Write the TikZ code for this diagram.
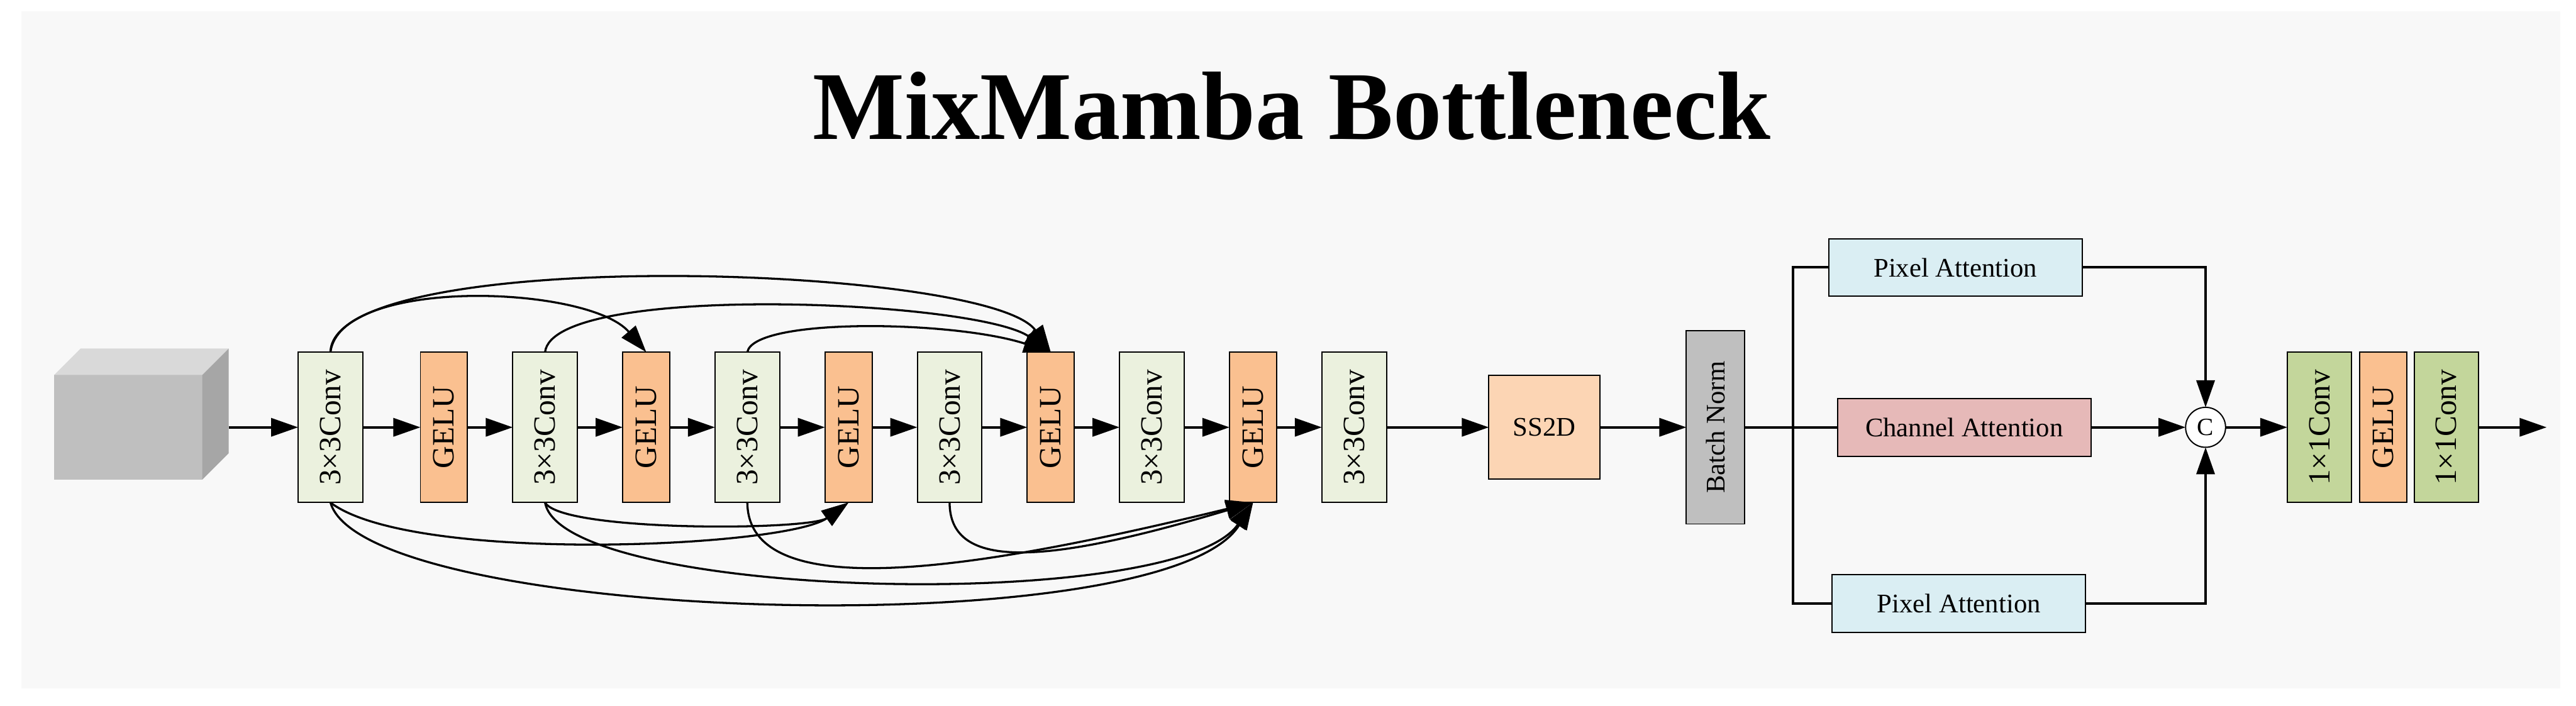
\documentclass[tikz,border=0pt]{standalone}
\usepackage{fontspec}
\usepackage{graphicx}
\setmainfont{Liberation Serif}
\usetikzlibrary{arrows.meta,positioning}

\definecolor{mmBack}{HTML}{F8F8F8}
\definecolor{mmConv}{HTML}{EBF1DE}
\definecolor{mmGelu}{HTML}{FAC090}
\definecolor{mmSSD}{HTML}{FCD5B4}
\definecolor{mmNorm}{HTML}{BFBFBF}
\definecolor{mmPixel}{HTML}{DAEEF3}
\definecolor{mmChannel}{HTML}{E6B9B8}
\definecolor{mmPoint}{HTML}{C3D69B}
\definecolor{mmCubeTop}{HTML}{D9D9D9}
\definecolor{mmCubeFront}{HTML}{BFBFBF}
\definecolor{mmCubeSide}{HTML}{A6A6A6}

\newcommand{\mmBlockHeight}{2.56cm}
\newcommand{\mmConvWidth}{1.10cm}
\newcommand{\mmGeluWidth}{0.80cm}
\newcommand{\mmStepDist}{1.72cm}
\newcommand{\mmFirstExtra}{0.21cm}
\newcommand{\mmUp}[1]{\rotatebox{90}{#1}}
\tikzset{
  mm base/.style={inner sep=0pt, outer sep=0pt},
  mm arrow/.style={line width=1.2pt, -{Triangle[length=4.6mm,width=3.1mm]}},
  mm line/.style={line width=1.2pt},
  mm skip/.style={line width=1.0pt, -{Triangle[length=4.6mm,width=3.1mm]}},
  mm block/.style={draw, rectangle, line width=0.6pt,
    minimum height=\mmBlockHeight, font=\fontsize{15}{16}\selectfont},
  mm conv/.style={mm block, fill=mmConv, minimum width=\mmConvWidth},
  mm gelu/.style={mm block, fill=mmGelu, minimum width=\mmGeluWidth},
  mm point/.style={mm block, fill=mmPoint, minimum width=1.09cm},
  mm ss2d/.style={draw, rectangle, line width=0.6pt, fill=mmSSD,
    minimum width=1.89cm, minimum height=1.77cm, font=\fontsize{13}{14}\selectfont},
  mm norm/.style={draw, rectangle, line width=0.6pt, fill=mmNorm,
    minimum width=0.99cm, minimum height=3.29cm, font=\fontsize{13}{14}\selectfont},
  mm attn/.style={draw, rectangle, line width=0.6pt,
    minimum width=4.31cm, minimum height=0.98cm, font=\fontsize{13}{14}\selectfont},
  mm cat/.style={draw, circle, line width=0.6pt, fill=white,
    minimum size=0.68cm, font=\fontsize{12}{13}\selectfont},
}

\begin{document}
\begin{tikzpicture}[
    mm base,
    node distance=\mmStepDist,
    conv/.style={mm conv},
    gelu/.style={mm gelu},
    arrow/.style={mm arrow},
    skiparrow/.style={mm skip}
]
\useasboundingbox (0,7.27) rectangle (43.81,-4.74);
\fill [mmBack] (0.36,7.08) rectangle (43.54,-4.44);

\node (title) [anchor=base, font=\bfseries\fontsize{47}{50}\selectfont] at (21.97,4.90) {MixMamba Bottleneck};

% input feature cube
\node (input) [fill=mmCubeFront, minimum width=2.52cm, minimum height=1.78cm] at (2.18,0) {};
\fill [mmCubeTop] (input.north west) -- ++(0.45,0.45) -- ([shift={(0.45,0.45)}]input.north east) -- (input.north east) -- cycle;
\fill [mmCubeSide] (input.north east) -- ++(0.45,0.45) -- ([shift={(0.45,0.45)}]input.south east) -- (input.south east) -- cycle;
\coordinate (inputR) at ([xshift=0.45cm]input.east);

\node (c1) [conv] at (5.62,0) {\mmUp{3×3Conv}};
\node (g1) [gelu, right of=c1, xshift=\mmFirstExtra] {\mmUp{GELU}};
\node (c2) [conv, right of=g1] {\mmUp{3×3Conv}};
\node (g2) [gelu, right of=c2] {\mmUp{GELU}};
\node (c3) [conv, right of=g2] {\mmUp{3×3Conv}};
\node (g3) [gelu, right of=c3] {\mmUp{GELU}};
\node (c4) [conv, right of=g3] {\mmUp{3×3Conv}};
\node (g4) [gelu, right of=c4] {\mmUp{GELU}};
\node (c5) [conv, right of=g4] {\mmUp{3×3Conv}};
\node (g5) [gelu, right of=c5] {\mmUp{GELU}};
\node (c6) [conv, right of=g5] {\mmUp{3×3Conv}};
\node (ss) [mm ss2d, right=1.74cm of c6] {SS2D};
\node (bn) [mm norm, right=1.47cm of ss] {\mmUp{Batch Norm}};
\coordinate (split) at ([xshift=0.82cm]bn.east);
\node (ca)  [mm attn, fill=mmChannel, right=0.76cm of split] {Channel Attention};
\node (pa1) [mm attn, fill=mmPixel, above=1.74cm of ca, xshift=-0.15cm] {Pixel Attention};
\node (pa2) [mm attn, fill=mmPixel, below=2.02cm of ca, xshift=-0.09cm] {Pixel Attention};
\node (cat) [mm cat, right=1.61cm of ca] {C};
\node (pc1) [mm point, right=1.05cm of cat] {\mmUp{1×1Conv}};
\node (pg)  [mm gelu, right=0.14cm of pc1] {\mmUp{GELU}};
\node (pc2) [mm point, right=0.13cm of pg] {\mmUp{1×1Conv}};
\coordinate (out) at ([xshift=1.16cm]pc2.east);

\draw [arrow] (inputR) -- (c1);
\draw [arrow] (c1) -- (g1);
\draw [arrow] (g1) -- (c2);
\draw [arrow] (c2) -- (g2);
\draw [arrow] (g2) -- (c3);
\draw [arrow] (c3) -- (g3);
\draw [arrow] (g3) -- (c4);
\draw [arrow] (c4) -- (g4);
\draw [arrow] (g4) -- (c5);
\draw [arrow] (c5) -- (g5);
\draw [arrow] (g5) -- (c6);
\draw [arrow] (c6) -- (ss);
\draw [arrow] (ss) -- (bn);
\draw [mm line] (bn) -- (ca);
\draw [mm line] (split) |- (pa1);
\draw [mm line] (split) |- (pa2);
\draw [arrow] (pa1) -| (cat);
\draw [arrow] (ca) -- (cat);
\draw [arrow] (pa2) -| (cat);
\draw [arrow] (cat) -- (pc1);
\draw [arrow] (pc2) -- (out);

% dense skips, above
\draw [skiparrow] (c1.north) .. controls +(0.17,1.29) and +(-0.98,1.14) .. (g2.north);
\draw [skiparrow] (c1.north) .. controls +(0.05,1.84) and +(-1.05,1.49) .. (g4.north);
\draw [skiparrow] (c2.north) .. controls +(0.135,1.19) and +(-1.25,0.89) .. (g4.north);
\draw [skiparrow] (c3.north) .. controls +(0.115,0.59) and +(-1.65,0.54) .. (g4.north);
% dense skips, below
\draw [skiparrow] (c1.south) .. controls +(1.38,-1.05) and +(-1.065,-0.77) .. (g3.south);
\draw [skiparrow] (c2.south) .. controls +(0.285,-0.5) and +(-0.665,-0.48) .. (g3.south);
\draw [skiparrow] (c1.south) .. controls +(0.58,-2.05) and +(-1.51,-2.45) .. (g5.south);
\draw [skiparrow] (c2.south) .. controls +(0.285,-1.65) and +(-1.31,-1.90) .. (g5.south);
\draw [skiparrow] (c3.south) .. controls +(0.015,-1.85) and +(-4.31,-1.05) .. (g5.south);
\draw [skiparrow] (c4.south) .. controls +(0,-1.17) and +(-3.51,-1.05) .. (g5.south);
\end{tikzpicture}
\end{document}
